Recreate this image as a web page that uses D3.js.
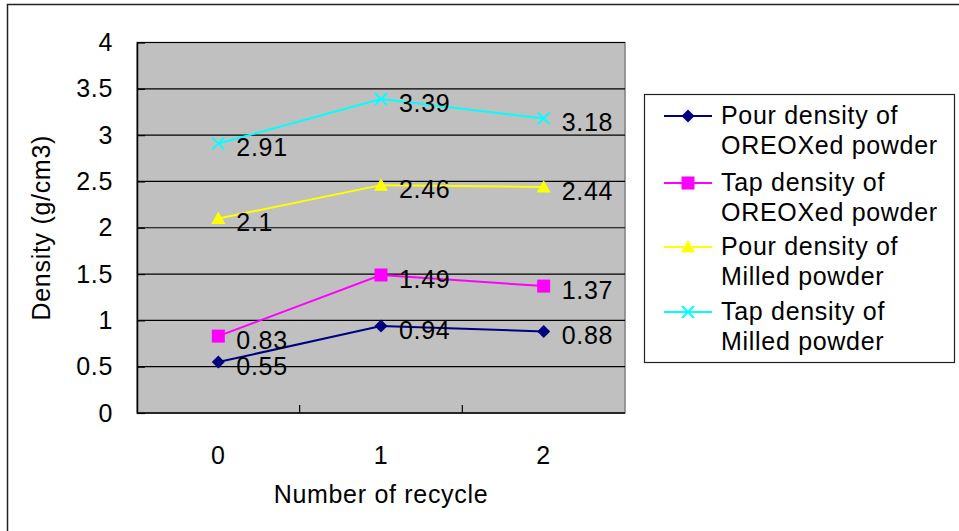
<!DOCTYPE html>
<html>
<head>
<meta charset="utf-8">
<script src="https://cdn.jsdelivr.net/npm/d3@7"></script>
<style>
  html, body { margin: 0; padding: 0; background: #fff; }
  svg { display: block; font-family: "Liberation Sans", Arial, sans-serif; }
  svg text { letter-spacing: 0.7px; }
</style>
</head>
<body>
<svg id="chart" width="959" height="531"></svg>
<script>
// Recycle counts on the x axis
const categories = ["0", "1", "2"];

// Density series (g/cm3)
const pourOreox = [0.55, 0.94, 0.88];
const tapOreox = [0.83, 1.49, 1.37];
const pourMilled = [2.1, 2.46, 2.44];
const tapMilled = [2.91, 3.39, 3.18];

const yTicks = [0, 0.5, 1, 1.5, 2, 2.5, 3, 3.5, 4];

const seriesNames = [
  ["Pour density of", "OREOXed powder"],
  ["Tap density of", "OREOXed powder"],
  ["Pour density of", "Milled powder"],
  ["Tap density of", "Milled powder"]
];

const series = [
  { name: seriesNames[0], values: pourOreox, color: "#000080", marker: "diamond" },
  { name: seriesNames[1], values: tapOreox, color: "#FF00FF", marker: "square" },
  { name: seriesNames[2], values: pourMilled, color: "#FFFF00", marker: "triangle" },
  { name: seriesNames[3], values: tapMilled, color: "#00FFFF", marker: "cross" }
];

const svg = d3.select("#chart");
const fontSize = 25;

// Outer chart frame (extends beyond the visible canvas on right/bottom)
svg.append("rect")
  .attr("x", 7.5).attr("y", 4.5)
  .attr("width", 1000).attr("height", 1000)
  .attr("fill", "#fff").attr("stroke", "#222").attr("stroke-width", 1.5);

const plot = { left: 137, top: 42.5, right: 625, bottom: 413 };

const x = d3.scaleBand().domain(categories).range([plot.left, plot.right]).padding(0);
const y = d3.scaleLinear().domain([0, 4]).range([plot.bottom, plot.top]);
const cx = c => x(c) + x.bandwidth() / 2;

// Plot area background
svg.append("rect")
  .attr("x", plot.left).attr("y", plot.top)
  .attr("width", plot.right - plot.left).attr("height", plot.bottom - plot.top)
  .attr("fill", "#C0C0C0").attr("stroke", "#808080").attr("stroke-width", 1.5);

// Horizontal gridlines
svg.append("g").selectAll("line")
  .data(yTicks.filter(d => d > 0))
  .join("line")
  .attr("x1", plot.left).attr("x2", plot.right)
  .attr("y1", d => y(d)).attr("y2", d => y(d))
  .attr("stroke", "#000").attr("stroke-width", 1.2);

// Y axis
const yAxis = svg.append("g")
  .attr("transform", `translate(${plot.left},0)`)
  .call(d3.axisLeft(y).tickValues(yTicks).tickSizeInner(-8).tickSizeOuter(0).tickPadding(24).tickFormat(d3.format("")));
yAxis.select(".domain").attr("stroke", "#000").attr("stroke-width", 1.5);
yAxis.selectAll(".tick line").attr("stroke", "#000").attr("stroke-width", 1.2);
yAxis.selectAll(".tick text")
  .attr("font-size", fontSize).attr("fill", "#000")
  .attr("font-family", "Liberation Sans, Arial, sans-serif");

// X axis: labels at category centers, tick marks between categories
const xAxis = svg.append("g")
  .attr("transform", `translate(0,${plot.bottom})`);
xAxis.append("line")
  .attr("x1", plot.left).attr("x2", plot.right)
  .attr("y1", 0).attr("y2", 0)
  .attr("stroke", "#000").attr("stroke-width", 1.5);
const boundaries = categories.slice(1).map(c => x(c));
xAxis.selectAll(".xtick")
  .data(boundaries)
  .join("line")
  .attr("x1", d => d).attr("x2", d => d)
  .attr("y1", 0).attr("y2", -8)
  .attr("stroke", "#000").attr("stroke-width", 1.2);
xAxis.selectAll(".xlabel")
  .data(categories)
  .join("text")
  .attr("x", d => cx(d)).attr("y", 51)
  .attr("text-anchor", "middle")
  .attr("font-size", fontSize).attr("fill", "#000")
  .text(d => d);

// Axis titles
svg.append("text")
  .attr("x", cx(categories[1])).attr("y", 503)
  .attr("text-anchor", "middle")
  .attr("font-size", fontSize).attr("fill", "#000")
  .text("Number of recycle");

svg.append("text")
  .attr("transform", `translate(50,${(plot.top + plot.bottom) / 2}) rotate(-90)`)
  .attr("text-anchor", "middle")
  .attr("font-size", fontSize).attr("fill", "#000")
  .text("Density (g/cm3)");

// Marker drawing helper
function drawMarker(g, type, color) {
  if (type === "diamond") {
    g.append("path").attr("d", "M0,-6.5L6.5,0L0,6.5L-6.5,0Z").attr("fill", color);
  } else if (type === "square") {
    g.append("rect").attr("x", -6.5).attr("y", -6.5).attr("width", 13).attr("height", 13).attr("fill", color);
  } else if (type === "triangle") {
    g.append("path").attr("d", "M0,-7L7,5.5L-7,5.5Z").attr("fill", color);
  } else if (type === "cross") {
    g.append("path").attr("d", "M-6,-6L6,6M-6,6L6,-6").attr("stroke", color).attr("stroke-width", 1.8).attr("fill", "none");
  }
}

const line = d3.line().x((d, i) => cx(categories[i])).y(d => y(d));

series.forEach(s => {
  svg.append("path")
    .datum(s.values)
    .attr("d", line)
    .attr("fill", "none")
    .attr("stroke", s.color)
    .attr("stroke-width", 2);

  s.values.forEach((v, i) => {
    const g = svg.append("g").attr("transform", `translate(${cx(categories[i])},${y(v)})`);
    drawMarker(g, s.marker, s.color);
  });

  // Value labels to the right of each point
  svg.append("g").selectAll("text")
    .data(s.values)
    .join("text")
    .attr("x", (d, i) => cx(categories[i]) + 18)
    .attr("y", d => y(d) + 13)
    .attr("font-size", fontSize).attr("fill", "#000")
    .text(d => d);
});

// Legend
const legend = svg.append("g");
legend.append("rect")
  .attr("x", 644.5).attr("y", 94.5).attr("width", 310).attr("height", 268)
  .attr("fill", "#fff").attr("stroke", "#222").attr("stroke-width", 1.2);

const rowY = [116, 183, 247, 312];
series.forEach((s, i) => {
  const ly = rowY[i];
  legend.append("line")
    .attr("x1", 664).attr("x2", 712)
    .attr("y1", ly).attr("y2", ly)
    .attr("stroke", s.color).attr("stroke-width", 2);
  const g = legend.append("g").attr("transform", `translate(688,${ly})`);
  drawMarker(g, s.marker, s.color);
  s.name.forEach((t, j) => {
    legend.append("text")
      .attr("x", 721).attr("y", ly + 8 + j * 30)
      .attr("font-size", fontSize).attr("fill", "#000")
      .text(t);
  });
});
</script>
</body>
</html>
